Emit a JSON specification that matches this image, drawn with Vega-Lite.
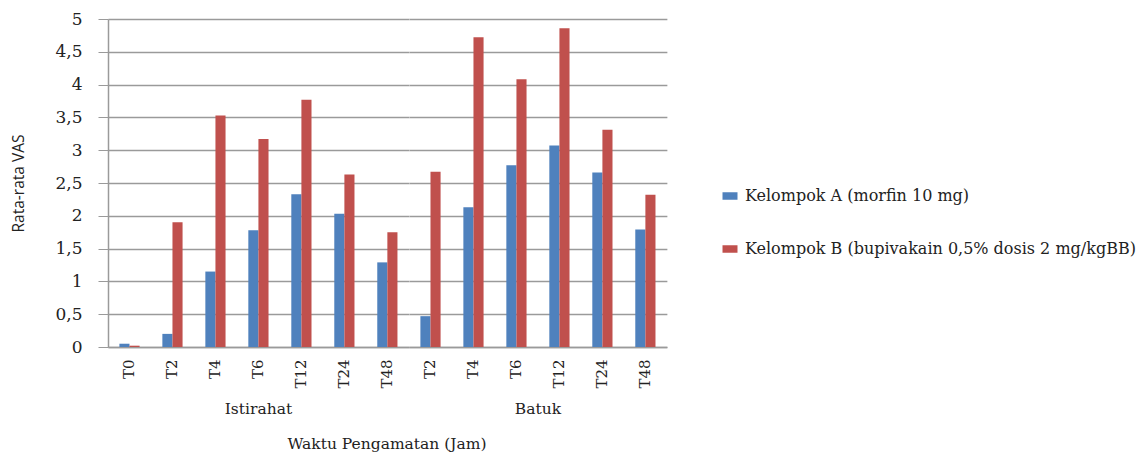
{
  "$schema": "https://vega.github.io/schema/vega-lite/v6.json",
  "padding": {"left": 11, "top": 10, "right": 5, "bottom": 2},
  "background": "white",
  "config": {
    "view": {"stroke": null},
    "font": "DejaVu Serif"
  },
  "data": {
    "values": [
      {"fase": "Istirahat", "waktu": "T0", "kelompok": "Kelompok A (morfin 10 mg)", "vas": 0.05},
      {"fase": "Istirahat", "waktu": "T0", "kelompok": "Kelompok B (bupivakain 0,5% dosis 2 mg/kgBB)", "vas": 0.02},
      {"fase": "Istirahat", "waktu": "T2", "kelompok": "Kelompok A (morfin 10 mg)", "vas": 0.2},
      {"fase": "Istirahat", "waktu": "T2", "kelompok": "Kelompok B (bupivakain 0,5% dosis 2 mg/kgBB)", "vas": 1.9},
      {"fase": "Istirahat", "waktu": "T4", "kelompok": "Kelompok A (morfin 10 mg)", "vas": 1.15},
      {"fase": "Istirahat", "waktu": "T4", "kelompok": "Kelompok B (bupivakain 0,5% dosis 2 mg/kgBB)", "vas": 3.53},
      {"fase": "Istirahat", "waktu": "T6", "kelompok": "Kelompok A (morfin 10 mg)", "vas": 1.78},
      {"fase": "Istirahat", "waktu": "T6", "kelompok": "Kelompok B (bupivakain 0,5% dosis 2 mg/kgBB)", "vas": 3.17},
      {"fase": "Istirahat", "waktu": "T12", "kelompok": "Kelompok A (morfin 10 mg)", "vas": 2.33},
      {"fase": "Istirahat", "waktu": "T12", "kelompok": "Kelompok B (bupivakain 0,5% dosis 2 mg/kgBB)", "vas": 3.77},
      {"fase": "Istirahat", "waktu": "T24", "kelompok": "Kelompok A (morfin 10 mg)", "vas": 2.03},
      {"fase": "Istirahat", "waktu": "T24", "kelompok": "Kelompok B (bupivakain 0,5% dosis 2 mg/kgBB)", "vas": 2.63},
      {"fase": "Istirahat", "waktu": "T48", "kelompok": "Kelompok A (morfin 10 mg)", "vas": 1.29},
      {"fase": "Istirahat", "waktu": "T48", "kelompok": "Kelompok B (bupivakain 0,5% dosis 2 mg/kgBB)", "vas": 1.75},
      {"fase": "Batuk", "waktu": "T2", "kelompok": "Kelompok A (morfin 10 mg)", "vas": 0.47},
      {"fase": "Batuk", "waktu": "T2", "kelompok": "Kelompok B (bupivakain 0,5% dosis 2 mg/kgBB)", "vas": 2.67},
      {"fase": "Batuk", "waktu": "T4", "kelompok": "Kelompok A (morfin 10 mg)", "vas": 2.13},
      {"fase": "Batuk", "waktu": "T4", "kelompok": "Kelompok B (bupivakain 0,5% dosis 2 mg/kgBB)", "vas": 4.72},
      {"fase": "Batuk", "waktu": "T6", "kelompok": "Kelompok A (morfin 10 mg)", "vas": 2.77},
      {"fase": "Batuk", "waktu": "T6", "kelompok": "Kelompok B (bupivakain 0,5% dosis 2 mg/kgBB)", "vas": 4.08},
      {"fase": "Batuk", "waktu": "T12", "kelompok": "Kelompok A (morfin 10 mg)", "vas": 3.07},
      {"fase": "Batuk", "waktu": "T12", "kelompok": "Kelompok B (bupivakain 0,5% dosis 2 mg/kgBB)", "vas": 4.86},
      {"fase": "Batuk", "waktu": "T24", "kelompok": "Kelompok A (morfin 10 mg)", "vas": 2.66},
      {"fase": "Batuk", "waktu": "T24", "kelompok": "Kelompok B (bupivakain 0,5% dosis 2 mg/kgBB)", "vas": 3.31},
      {"fase": "Batuk", "waktu": "T48", "kelompok": "Kelompok A (morfin 10 mg)", "vas": 1.79},
      {"fase": "Batuk", "waktu": "T48", "kelompok": "Kelompok B (bupivakain 0,5% dosis 2 mg/kgBB)", "vas": 2.32}
    ]
  },
  "facet": {
    "column": {
      "field": "fase",
      "type": "nominal",
      "sort": ["Istirahat", "Batuk"],
      "header": {
        "labelOrient": "bottom",
        "titleOrient": "bottom",
        "title": "Waktu Pengamatan (Jam)",
        "labelFont": "DejaVu Serif",
        "labelFontSize": 15.5,
        "labelColor": "#222222",
        "labelPadding": 13,
        "titleFont": "DejaVu Serif",
        "titleFontSize": 15.5,
        "titleFontWeight": "normal",
        "titleColor": "#222222",
        "titlePadding": 9
      }
    }
  },
  "spacing": 0,
  "resolve": {"scale": {"x": "independent"}},
  "spec": {
    "width": {"step": 10.1},
    "height": 328,
    "mark": {"type": "bar"},
    "encoding": {
      "x": {
        "field": "waktu",
        "type": "nominal",
        "sort": ["T0", "T2", "T4", "T6", "T12", "T24", "T48"],
        "scale": {"paddingInner": 0.53, "paddingOuter": 0.265},
        "axis": {
          "title": null,
          "labelAngle": -90,
          "labelFont": "DejaVu Serif",
          "labelFontSize": 15,
          "labelColor": "#222222",
          "labelPadding": 12,
          "ticks": false,
          "domainColor": "#9a9a9a",
          "domainWidth": 1.5
        }
      },
      "xOffset": {
        "field": "kelompok",
        "type": "nominal",
        "scale": {"paddingInner": 0, "paddingOuter": 0}
      },
      "y": {
        "field": "vas",
        "type": "quantitative",
        "scale": {"domain": [0, 5], "nice": false},
        "axis": {
          "title": "Rata-rata VAS",
          "titleFont": "Open Sans",
          "titleFontSize": 15.5,
          "titleFontWeight": "normal",
          "titleColor": "#222222",
          "titlePadding": 28,
          "values": [0, 0.5, 1, 1.5, 2, 2.5, 3, 3.5, 4, 4.5, 5],
          "labelExpr": "replace(toString(datum.value), '.', ',')",
          "labelFont": "DejaVu Serif",
          "labelFontSize": 17,
          "labelColor": "#222222",
          "labelPadding": 16,
          "tickSize": 10,
          "tickColor": "#9a9a9a",
          "domainColor": "#9a9a9a",
          "domainWidth": 1.5,
          "gridColor": "#9a9a9a",
          "gridWidth": 1.5
        }
      },
      "color": {
        "field": "kelompok",
        "type": "nominal",
        "scale": {
          "domain": ["Kelompok A (morfin 10 mg)", "Kelompok B (bupivakain 0,5% dosis 2 mg/kgBB)"],
          "range": ["#4F81BD", "#C0504D"]
        },
        "legend": {
          "title": null,
          "orient": "none",
          "legendX": 614,
          "legendY": 169,
          "symbolType": "M-1,-0.5H1V0.5H-1Z",
          "symbolSize": 225,
          "symbolStrokeWidth": 0,
          "labelFont": "DejaVu Serif",
          "labelFontSize": 16,
          "labelColor": "#222222",
          "labelLimit": 500,
          "rowPadding": 37,
          "labelOffset": 7
        }
      }
    }
  }
}
